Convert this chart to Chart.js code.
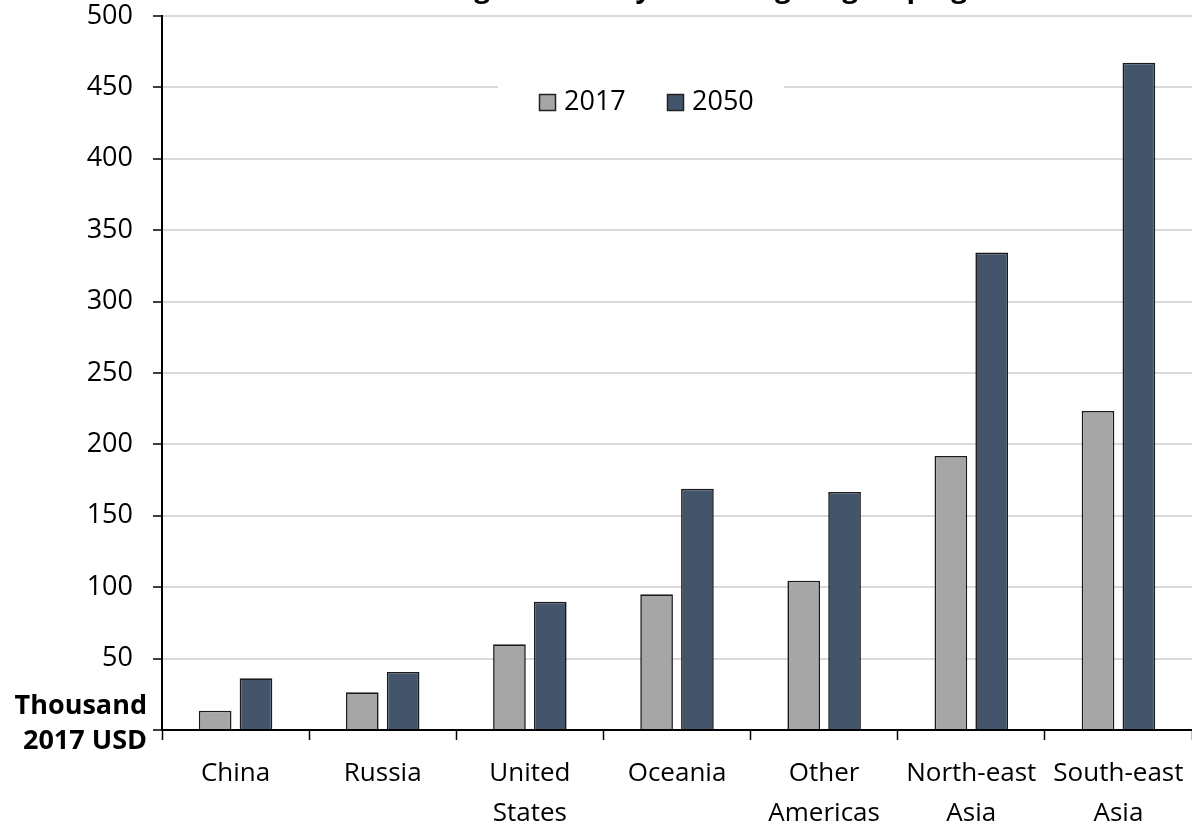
<!DOCTYPE html>
<html>
<head>
<meta charset="utf-8">
<script src="https://cdn.jsdelivr.net/npm/chart.js@4/dist/chart.umd.min.js"></script>
<style>
    body { margin: 0; background: #fff; }
    #grafico { display: block; }
</style>
</head>
<body>
<canvas id="grafico" width="1192" height="827"></canvas>
<script>
const categorias = ['China', 'Russia', ['United', 'States'], 'Oceania', ['Other', 'Americas'], ['North-east', 'Asia'], ['South-east', 'Asia']]
const valores2017 = [13.5, 26.4, 60.0, 95.0, 104.6, 191.9, 223.4]
const valores2050 = [36.2, 40.6, 89.8, 169.0, 166.7, 334.3, 467.3]
const series = ['2017', '2050']
const cores = ['#A6A6A6', '#44546A']
const titulo = 'Average wealth by home region grouping'
const tituloEixo = ['Thousand', '2017 USD']

const fonte = "'Open Sans', 'Noto Sans', sans-serif"

// titulo cortado no topo, legenda dentro da area e rotulo do eixo y
const extras = {
    id: 'extras',
    afterDraw(chart) {
        const ctx = chart.ctx
        const area = chart.chartArea
        ctx.save()

        ctx.font = `bold 28px ${fonte}`
        ctx.fillStyle = '#000'
        ctx.textAlign = 'center'
        ctx.textBaseline = 'alphabetic'
        ctx.fillText(titulo, 680, -3)

        // legenda
        ctx.fillStyle = '#fff'
        ctx.fillRect(498, 74, 286, 58)
        ctx.font = `27px ${fonte}`
        ctx.textAlign = 'left'
        ctx.textBaseline = 'middle'
        const posicoes = [539, 667]
        series.forEach((s, i) => {
            ctx.fillStyle = cores[i]
            ctx.fillRect(posicoes[i], 94, 17, 17)
            ctx.strokeStyle = '#222'
            ctx.lineWidth = 1.5
            ctx.strokeRect(posicoes[i] + 0.5, 94.5, 16, 16)
            ctx.fillStyle = '#000'
            ctx.fillText(s, posicoes[i] + 25, 102)
        })

        // rotulo do eixo y
        ctx.font = `bold 27px ${fonte}`
        ctx.textAlign = 'right'
        ctx.textBaseline = 'middle'
        ctx.fillText(tituloEixo[0], 147, area.bottom - 24)
        ctx.fillText(tituloEixo[1], 147, area.bottom + 11)
        ctx.restore()
    }
}

new Chart(document.getElementById('grafico'), {
    type: 'bar',
    data: {
        labels: categorias,
        datasets: [
            {
                label: series[0],
                data: valores2017,
                backgroundColor: cores[0],
                borderColor: '#1a1a1a',
                borderWidth: 1.6,
                categoryPercentage: 0.555,
                barPercentage: 0.8
            },
            {
                label: series[1],
                data: valores2050,
                backgroundColor: cores[1],
                borderColor: '#1a1a1a',
                borderWidth: 1.6,
                categoryPercentage: 0.555,
                barPercentage: 0.8
            }
        ]
    },
    options: {
        responsive: false,
        animation: false,
        layout: { padding: { top: 16, right: 0, left: 0, bottom: 0 } },
        plugins: {
            legend: { display: false },
            title: { display: false },
            tooltip: { enabled: false }
        },
        scales: {
            x: {
                grid: {
                    offset: true,
                    drawOnChartArea: false,
                    drawTicks: true,
                    tickLength: 10,
                    tickColor: '#000',
                    tickWidth: 1.5
                },
                border: { color: '#000', width: 2 },
                ticks: {
                    color: '#000',
                    font: { family: fonte, size: 26, lineHeight: 1.52 },
                    padding: 14,
                    maxRotation: 0,
                    autoSkip: false
                },
                afterFit(scale) {
                    scale.height = 97
                    scale.paddingLeft = 0
                    scale.paddingRight = 0
                }
            },
            y: {
                min: 0,
                max: 500,
                ticks: {
                    stepSize: 50,
                    color: '#000',
                    font: { family: fonte, size: 27, lineHeight: 1.1 },
                    padding: 20,
                    callback: v => v === 0 ? '' : v
                },
                grid: {
                    color: '#D9D9D9',
                    lineWidth: 2,
                    tickColor: '#000',
                    tickLength: 9,
                    tickWidth: 1.5
                },
                border: { color: '#000', width: 2 },
                afterFit(scale) {
                    scale.width = 162
                    scale.paddingTop = 0
                    scale.paddingBottom = 0
                }
            }
        }
    },
    plugins: [extras]
})
</script>
</body>
</html>
